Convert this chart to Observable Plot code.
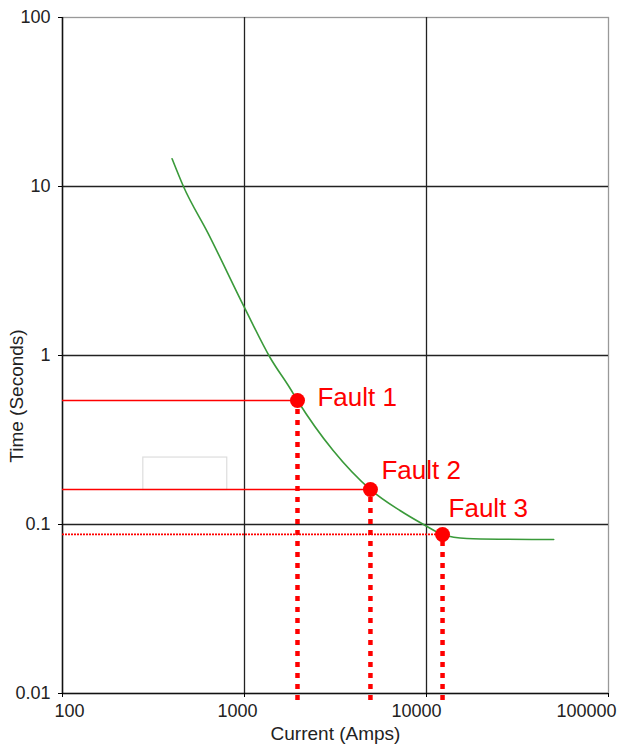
<!DOCTYPE html>
<html>
<head>
<meta charset="utf-8">
<script src="https://cdn.jsdelivr.net/npm/d3@7"></script>
<script src="https://cdn.jsdelivr.net/npm/@observablehq/plot@0.6"></script>
<style>
  html, body { margin: 0; padding: 0; background: #fff; }
</style>
</head>
<body>
<div id="chart"></div>
<script>
// Tick values
const xTicks = [100, 1000, 10000, 100000];
const yTicks = [0.01, 0.1, 1, 10, 100];

// Trip curve (current in A, time in s)
const curveCurrent = [400, 462, 630, 1000, 1384, 1782, 1955, 3070, 4920, 7150, 9640, 12250, 16670, 25000, 50000];
const curveTime    = [14.6, 10, 5.3, 1.92, 0.97, 0.638, 0.542, 0.274, 0.161, 0.121, 0.1, 0.0873, 0.0826, 0.0818, 0.0815];

// Fault points
const faultNames   = ["Fault 1", "Fault 2", "Fault 3"];
const faultCurrent = [1955, 4920, 12250];
const faultTime    = [0.542, 0.161, 0.0873];

// Stray empty box seen in the chart (data units)
const boxCurrent = [278, 804];
const boxTime    = [0.16, 0.249];

const curve = curveCurrent.map((c, i) => ({c, t: curveTime[i]}));
const faults = faultNames.map((n, i) => ({name: n, c: faultCurrent[i], t: faultTime[i], i}));

const red = "#ff0000";
const labelOffsets = [[20, -3], [11, -19], [6, -26]];
const xLabelShift = [7, -7, -10, -22];

const plot = Plot.plot({
  width: 626,
  height: 749,
  marginLeft: 62,
  marginRight: 18,
  marginTop: 17,
  marginBottom: 56,
  style: {fontFamily: "Liberation Sans, Arial, sans-serif", fontSize: "18px", background: "#fff"},
  x: {type: "log", domain: [100, 100000]},
  y: {type: "log", domain: [0.01, 100]},
  marks: [
    Plot.frame({stroke: "#999", strokeWidth: 1.3}),
    Plot.gridX([1000, 10000], {stroke: "#222", strokeOpacity: 1, strokeWidth: 1.3}),
    Plot.gridY([0.1, 1, 10], {stroke: "#222", strokeOpacity: 1, strokeWidth: 1.3}),
    Plot.ruleX([100], {stroke: "#111", strokeWidth: 1.5}),
    Plot.ruleY([0.01], {stroke: "#111", strokeWidth: 1.5}),
    Plot.axisX(xTicks, {tickSize: 4, tickFormat: () => "", label: null}),
    ...xTicks.map((v, k) => Plot.text([v], {x: d => d, frameAnchor: "bottom", dy: 23, dx: xLabelShift[k], text: d => String(d), fontSize: 18, fill: "#222"})),
    Plot.axisY(yTicks, {tickSize: 4, tickPadding: 8, tickFormat: d => String(d), label: null, fontSize: 18, fill: "#222"}),
    Plot.rect([{x1: boxCurrent[0], x2: boxCurrent[1], y1: boxTime[0], y2: boxTime[1]}], {x1: "x1", x2: "x2", y1: "y1", y2: "y2", fill: "none", stroke: "#ddd", strokeWidth: 1.2}),
    // horizontal red lines
    Plot.ruleY(faults.filter(d => d.i < 2), {y: "t", x1: 100, x2: "c", stroke: red, strokeWidth: 1.4}),
    Plot.ruleY(faults.filter(d => d.i === 2), {y: "t", x1: 100, x2: "c", stroke: red, strokeWidth: 1.8, strokeDasharray: "2,1"}),
    // vertical dotted red lines
    Plot.ruleX(faults, {x: "c", y1: 0.0091, y2: "t", stroke: red, strokeWidth: 4.5, strokeDasharray: "5,6"}),
    // trip curve
    Plot.line(curve, {x: "c", y: "t", stroke: "#3a9a3a", strokeWidth: 1.6, curve: "monotone-x"}),
    Plot.dot(faults, {x: "c", y: "t", r: 7.5, fill: red, stroke: "none"}),
    ...faults.map((d, k) => Plot.text([d], {x: "c", y: "t", text: "name", fill: red, fontSize: 26, textAnchor: "start", dx: labelOffsets[k][0], dy: labelOffsets[k][1]})),
    // x axis title
    Plot.text(["Current (Amps)"], {frameAnchor: "bottom", dy: 46, fontSize: 19, fill: "#222"})
  ]
});
// y axis title (placed beside the axis, slightly below its middle as in the reference)
d3.select(plot).append("text")
  .attr("transform", "translate(23,396) rotate(-90)")
  .attr("text-anchor", "middle")
  .attr("font-size", 19)
  .attr("fill", "#222")
  .text("Time (Seconds)");
document.getElementById("chart").appendChild(plot);
</script>
</body>
</html>
